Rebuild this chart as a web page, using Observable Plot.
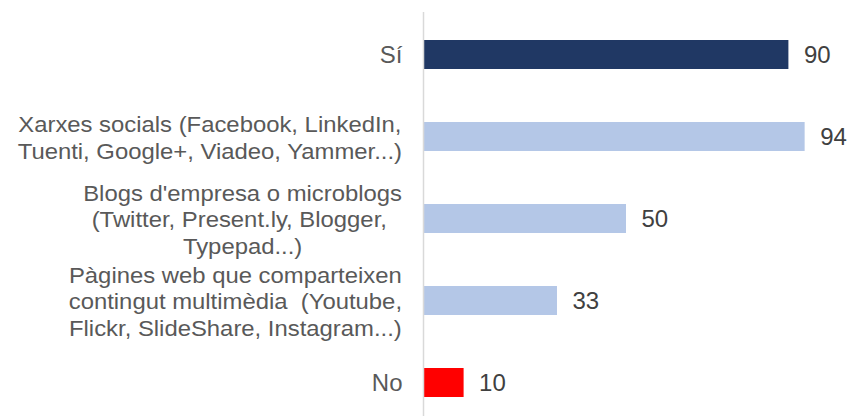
<!DOCTYPE html>
<html>
<head>
<meta charset="utf-8">
<script src="https://cdn.jsdelivr.net/npm/d3@7"></script>
<script src="https://cdn.jsdelivr.net/npm/@observablehq/plot@0.6"></script>
<style>
  html, body { margin: 0; padding: 0; background: #fff; }
  svg text { white-space: pre; }
</style>
</head>
<body>
<div id="chart"></div>
<script>
const categories = [
  "Sí",
  "Xarxes socials (Facebook, LinkedIn,\nTuenti, Google+, Viadeo, Yammer...)",
  "Blogs d'empresa o microblogs\n(Twitter, Present.ly, Blogger, \nTypepad...)",
  "Pàgines web que comparteixen\ncontingut multimèdia  (Youtube,\nFlickr, SlideShare, Instagram...)",
  "No"
];
const values = [90, 94, 50, 33, 10];
const barColors = ["#203864", "#b4c7e7", "#b4c7e7", "#b4c7e7", "#ff0000"];

const data = categories.map((c, i) => ({cat: c, value: values[i], color: barColors[i], multi: c.includes("\n")}));

const font = "'Liberation Sans', Arial, sans-serif";

const plot = Plot.plot({
  width: 851,
  height: 416,
  marginLeft: 423,
  marginRight: 22,
  marginTop: 12,
  marginBottom: 0,
  style: {fontFamily: font, background: "#fff"},
  x: {domain: [0, 100], axis: null},
  y: {domain: categories, range: [12.8, 424.7], paddingInner: 0.65, paddingOuter: 0.325, axis: null},
  marks: [
    Plot.barX(data, {x: "value", y: "cat", fill: "color"}),
    Plot.ruleX([0], {stroke: "#d9d9d9", strokeWidth: 1.5}),
    Plot.text(data, {x: "value", y: "cat", text: d => String(d.value), textAnchor: "start", dx: 15, fontSize: 24, fill: "#404040"}),
    Plot.text(data.filter(d => !d.multi), {x: 0, y: "cat", text: "cat", textAnchor: "end", dx: -21, fontSize: 24, fill: "#595959"}),
    Plot.text(data.filter(d => d.multi), {x: 0, y: "cat", text: "cat", textAnchor: "middle", lineAnchor: "middle", lineHeight: 1.23, fontSize: 21.5, fill: "#595959", className: "mlabel"})
  ]
});

document.getElementById("chart").appendChild(plot);

// Right-align each multi-line (centered) label block against the axis gap; glyphs are slightly wide in the reference
const rightEdge = 402;
const stretch = "scale(1.11,1)";
plot.querySelectorAll(".mlabel text").forEach(t => {
  const orig = t.getAttribute("transform") || "";
  t.setAttribute("transform", `${orig} ${stretch}`);
  const right = t.getBoundingClientRect().right - plot.getBoundingClientRect().left;
  const shift = rightEdge - right;
  t.setAttribute("transform", `${orig} translate(${shift},0) ${stretch}`);
});
</script>
</body>
</html>
